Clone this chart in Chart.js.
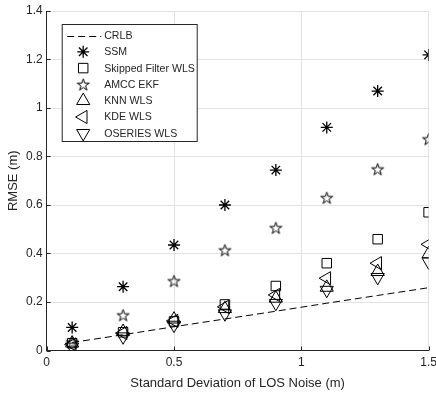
<!DOCTYPE html>
<html>
<head>
<meta charset="utf-8">
<script src="https://cdn.jsdelivr.net/npm/chart.js@4.4.1/dist/chart.umd.min.js"></script>
<style>
  html, body { margin: 0; padding: 0; background: #fff; }
  #wrap { width: 436px; height: 397px; position: relative; }
</style>
</head>
<body>
<div id="wrap"><canvas id="c" width="436" height="397"></canvas></div>
<script>
const noiseStd = [0.1, 0.3, 0.5, 0.7, 0.9, 1.1, 1.3, 1.5];
const crlb     = [0.033, 0.065, 0.098, 0.130, 0.162, 0.195, 0.227, 0.259];
const ssm      = [0.095, 0.263, 0.435, 0.600, 0.744, 0.920, 1.070, 1.219];
const skipped  = [0.030, 0.075, 0.120, 0.190, 0.266, 0.360, 0.459, 0.570];
const amcc     = [0.035, 0.146, 0.287, 0.414, 0.506, 0.630, 0.748, 0.872];
const knn      = [0.030, 0.078, 0.129, 0.172, 0.215, 0.260, 0.325, 0.398];
const kde      = [0.025, 0.072, 0.122, 0.180, 0.229, 0.298, 0.360, 0.438];
const oseries  = [0.015, 0.057, 0.105, 0.152, 0.195, 0.249, 0.302, 0.366];
const seriesNames = ['CRLB', 'SSM', 'Skipped Filter WLS', 'AMCC EKF', 'KNN WLS', 'KDE WLS', 'OSERIES WLS'];
const yTicks = [0, 0.2, 0.4, 0.6, 0.8, 1, 1.2, 1.4];
const xTicks = [0, 0.5, 1, 1.5];

const INK = '#262626';
const FONT = '"Liberation Sans", Arial, Helvetica, sans-serif';

// pentagram marker (MATLAB 'p')
function makePentagram(R) {
  const size = Math.ceil(2 * R + 4);
  const cv = document.createElement('canvas');
  cv.width = size; cv.height = size;
  const g = cv.getContext('2d');
  const cx = size / 2, cy = size / 2 + R * 0.1;
  const r = R * 0.382;
  g.beginPath();
  for (let i = 0; i < 10; i++) {
    const rad = (i % 2 === 0) ? R : r;
    const a = -Math.PI / 2 + i * Math.PI / 5;
    const px = cx + rad * Math.cos(a), py = cy + rad * Math.sin(a);
    if (i === 0) g.moveTo(px, py); else g.lineTo(px, py);
  }
  g.closePath();
  g.strokeStyle = '#000';
  g.lineWidth = 1;
  g.stroke();
  return cv;
}
const pentagram = makePentagram(6.3);

function pts(arr) { return noiseStd.map((x, i) => ({ x: x, y: arr[i] })); }

function markerSet(label, arr, style, radius, rotation, bw) {
  return {
    label: label, data: pts(arr), showLine: false,
    pointStyle: style, pointRadius: radius, pointHoverRadius: radius,
    pointRotation: rotation || 0,
    pointBorderColor: '#000', pointBackgroundColor: 'rgba(0,0,0,0)',
    pointBorderWidth: bw || 1, borderColor: '#000', backgroundColor: 'rgba(0,0,0,0)'
  };
}

const datasets = [
  {
    label: seriesNames[0], data: pts(crlb), showLine: true,
    borderColor: '#000', borderWidth: 1, borderDash: [7, 4],
    pointRadius: 0, fill: false, tension: 0
  },
  markerSet(seriesNames[1], ssm, 'star', 6, 0, 1.3),
  markerSet(seriesNames[2], skipped, 'rect', 6.7),
  markerSet(seriesNames[3], amcc, pentagram, 6),
  markerSet(seriesNames[4], knn, 'triangle', 7.6, 0),
  markerSet(seriesNames[5], kde, 'triangle', 7.6, 270),
  markerSet(seriesNames[6], oseries, 'triangle', 7.6, 180)
];

// inward ticks like MATLAB
const inwardTicks = {
  id: 'inwardTicks',
  afterDatasetsDraw(chart) {
    const { ctx, chartArea: a, scales: { x, y } } = chart;
    ctx.save();
    ctx.strokeStyle = INK; ctx.lineWidth = 1;
    ctx.beginPath();
    xTicks.forEach(v => {
      const px = Math.round(x.getPixelForValue(v)) + 0.5;
      ctx.moveTo(px, a.bottom); ctx.lineTo(px, a.bottom - 4);
    });
    yTicks.forEach(v => {
      const py = Math.round(y.getPixelForValue(v)) + 0.5;
      ctx.moveTo(a.left, py); ctx.lineTo(a.left + 4, py);
    });
    ctx.stroke();
    ctx.restore();
  }
};

// boxed legend in the upper left of the axes
const boxLegend = {
  id: 'boxLegend',
  afterDraw(chart) {
    const { ctx, chartArea: a } = chart;
    const left = a.left + 15.5, top = a.top + 13.5, w = 135, h = 117;
    const rowH = 16.3, firstY = top + 11;
    ctx.save();
    ctx.fillStyle = '#fff';
    ctx.fillRect(left, top, w, h);
    ctx.strokeStyle = INK; ctx.lineWidth = 1;
    ctx.strokeRect(left, top, w, h);
    ctx.font = '10.6px ' + FONT;
    ctx.textBaseline = 'middle';
    ctx.textAlign = 'left';
    const mx = left + 21, tx = left + 42;
    chart.data.datasets.forEach((ds, i) => {
      const cy = firstY + i * rowH;
      ctx.strokeStyle = '#000'; ctx.fillStyle = 'rgba(0,0,0,0)'; ctx.lineWidth = ds.pointBorderWidth || 1;
      if (i === 0) {
        ctx.beginPath();
        ctx.lineWidth = 1;
        ctx.setLineDash(ds.borderDash);
        ctx.moveTo(left + 5, Math.round(cy) + 0.5);
        ctx.lineTo(left + 39, Math.round(cy) + 0.5);
        ctx.stroke();
        ctx.setLineDash([]);
      } else {
        Chart.helpers.drawPoint(ctx, {
          pointStyle: ds.pointStyle, radius: ds.pointRadius,
          rotation: ds.pointRotation, borderWidth: ds.pointBorderWidth || 1
        }, mx, cy);
      }
      ctx.fillStyle = INK;
      ctx.fillText(ds.label, tx, cy + 0.5);
    });
    ctx.restore();
  }
};

new Chart(document.getElementById('c'), {
  type: 'scatter',
  data: { datasets: datasets },
  options: {
    responsive: false, animation: false, devicePixelRatio: 1,
    layout: { autoPadding: false, padding: { left: 0, right: 7.4, top: 11, bottom: 0 } },
    plugins: { legend: { display: false }, tooltip: { enabled: false } },
    scales: {
      x: {
        type: 'linear', min: 0, max: 1.5,
        afterBuildTicks: s => { s.ticks = xTicks.map(v => ({ value: v })); },
        afterFit: s => { s.height = 46.5; s.paddingLeft = 0; s.paddingRight = 0; },
        ticks: { color: INK, font: { family: FONT, size: 12 }, padding: 5, maxRotation: 0,
                 callback: v => String(v) },
        grid: { color: '#e3e3e3', drawTicks: false, lineWidth: 1 },
        border: { color: INK, width: 1 },
        title: { display: true, text: 'Standard Deviation of LOS Noise (m)', color: INK,
                 font: { family: FONT, size: 13 }, padding: { top: 0, bottom: 6 } }
      },
      y: {
        type: 'linear', min: 0, max: 1.4,
        afterBuildTicks: s => { s.ticks = yTicks.map(v => ({ value: v })); },
        afterFit: s => { s.width = 46.7; s.paddingTop = 0; s.paddingBottom = 0; },
        ticks: { color: INK, font: { family: FONT, size: 12 }, padding: 4,
                 callback: v => String(v) },
        grid: { color: '#e3e3e3', drawTicks: false, lineWidth: 1 },
        border: { color: INK, width: 1 },
        title: { display: true, text: 'RMSE (m)', color: INK,
                 font: { family: FONT, size: 13 }, padding: { top: 6, bottom: 0 } }
      }
    }
  },
  plugins: [inwardTicks, boxLegend]
});
</script>
</body>
</html>
